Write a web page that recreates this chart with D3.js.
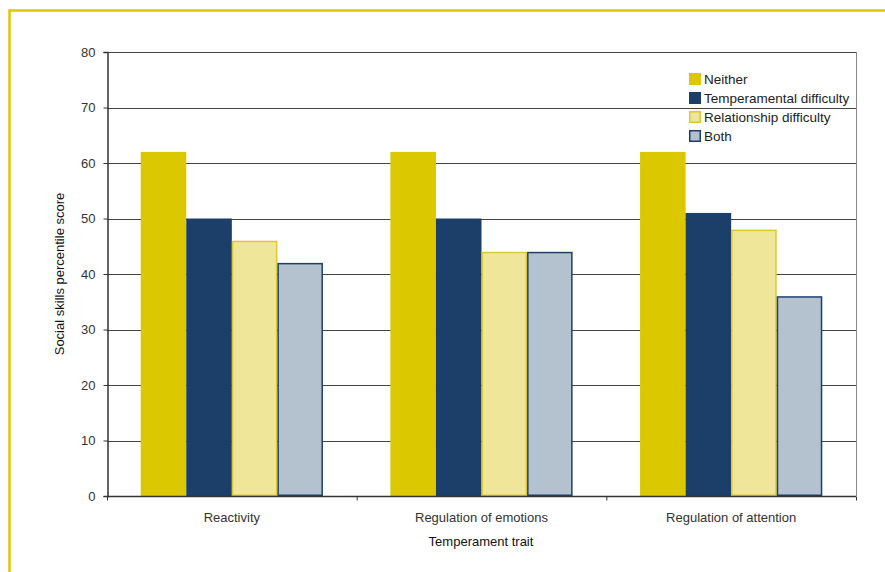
<!DOCTYPE html>
<html>
<head>
<meta charset="utf-8">
<script src="https://cdn.jsdelivr.net/npm/d3@7"></script>
<style>
  body { margin: 0; background: #fff; }
  svg { display: block; font-family: "Liberation Sans", Arial, sans-serif; }
</style>
</head>
<body>
<svg id="chart" width="885" height="572"></svg>
<script>
// data
var traits = ["Reactivity", "Regulation of emotions", "Regulation of attention"];
var groups = ["Neither", "Temperamental difficulty", "Relationship difficulty", "Both"];
var neither = [62, 62, 62];
var temperamental = [50, 50, 51];
var relationship = [46, 44, 48];
var both = [42, 44, 36];
var yTicks = [0, 10, 20, 30, 40, 50, 60, 70, 80];

var fills = ["#dcc800", "#1c3f6a", "#f0e69a", "#b4c2cf"];
var strokes = ["none", "none", "#dcc830", "#1c3f6a"];
var series = [neither, temperamental, relationship, both];

var svg = d3.select("#chart");
var m = { left: 107, right: 856, top: 52, bottom: 496 };

// frame
svg.append("path")
  .attr("d", "M9.5,572V10.5H885")
  .attr("fill", "none").attr("stroke", "#dcc800").attr("stroke-width", 2.5);

var x0 = d3.scaleBand().domain(traits).range([m.left, m.right]).paddingInner(0).paddingOuter(0);
var x1 = d3.scaleBand().domain(groups).range([0, x0.bandwidth()]).paddingOuter(0.74);
var y = d3.scaleLinear().domain([0, 80]).range([m.bottom, m.top]);

// gridlines
svg.append("g").selectAll("line").data(yTicks.filter(function(d){ return d > 0; }))
  .join("line")
  .attr("x1", m.left).attr("x2", m.right)
  .attr("y1", function(d){ return Math.round(y(d)) + 0.5; })
  .attr("y2", function(d){ return Math.round(y(d)) + 0.5; })
  .attr("stroke", "#444").attr("stroke-width", 1);

// right border
svg.append("line").attr("x1", m.right + 0.5).attr("x2", m.right + 0.5)
  .attr("y1", m.top).attr("y2", m.bottom).attr("stroke", "#888");

// bars
var g = svg.append("g");
traits.forEach(function(t, i){
  groups.forEach(function(s, j){
    var v = series[j][i];
    var x = x0(t) + x1(s), w = x1.bandwidth();
    var hasStroke = strokes[j] !== "none";
    g.append("rect")
      .attr("x", hasStroke ? x + 0.75 : x)
      .attr("y", hasStroke ? y(v) + 0.75 : y(v))
      .attr("width", hasStroke ? w - 1.5 : w)
      .attr("height", hasStroke ? y(0) - y(v) - 1.5 : y(0) - y(v))
      .attr("fill", fills[j])
      .attr("stroke", strokes[j])
      .attr("stroke-width", hasStroke ? 1.5 : 0);
  });
});

// y axis
var yAxis = svg.append("g").attr("transform", "translate(" + (m.left + 0.5) + ",0)")
  .call(d3.axisLeft(y).tickValues(yTicks).tickSize(4).tickPadding(8));
yAxis.select(".domain").attr("stroke", "#333").attr("stroke-width", 1.5);
yAxis.selectAll(".tick line").attr("stroke", "#333");
yAxis.selectAll(".tick text").attr("font-size", 13).attr("fill", "#333")
  .attr("font-family", "Liberation Sans, Arial, sans-serif");

// x axis
var xAxisG = svg.append("g").attr("transform", "translate(0," + (m.bottom + 0.5) + ")");
xAxisG.append("line").attr("x1", m.left).attr("x2", m.right)
  .attr("stroke", "#333").attr("stroke-width", 1.5);
xAxisG.selectAll("line.sep").data([m.left].concat(traits.map(function(t){ return x0(t) + x0.bandwidth(); })))
  .join("line").attr("class", "sep")
  .attr("x1", function(d){ return d + 0.5; }).attr("x2", function(d){ return d + 0.5; })
  .attr("y1", 0).attr("y2", 4).attr("stroke", "#333");
xAxisG.selectAll("text").data(traits).join("text")
  .attr("x", function(d){ return x0(d) + x0.bandwidth() / 2; })
  .attr("y", 25).attr("text-anchor", "middle")
  .attr("font-size", 13).attr("fill", "#333").text(function(d){ return d; });

// axis titles
svg.append("text").attr("x", 481).attr("y", 546).attr("text-anchor", "middle")
  .attr("font-size", 13).attr("fill", "#111").text("Temperament trait");
svg.append("text").attr("transform", "translate(64,274) rotate(-90)")
  .attr("text-anchor", "middle").attr("font-size", 13).attr("fill", "#111")
  .text("Social skills percentile score");

// legend
var leg = svg.append("g").attr("transform", "translate(689,73)");
groups.forEach(function(s, j){
  var row = leg.append("g").attr("transform", "translate(0," + (j * 19) + ")");
  var hasStroke = strokes[j] !== "none";
  row.append("rect")
    .attr("x", hasStroke ? 0.75 : 0).attr("y", hasStroke ? 0.75 : 0)
    .attr("width", hasStroke ? 10.5 : 12).attr("height", hasStroke ? 10.5 : 12)
    .attr("fill", fills[j]).attr("stroke", strokes[j]).attr("stroke-width", hasStroke ? 1.5 : 0);
  row.append("text").attr("x", 15).attr("y", 11)
    .attr("font-size", 13.5).attr("fill", "#222").text(s);
});
</script>
</body>
</html>
